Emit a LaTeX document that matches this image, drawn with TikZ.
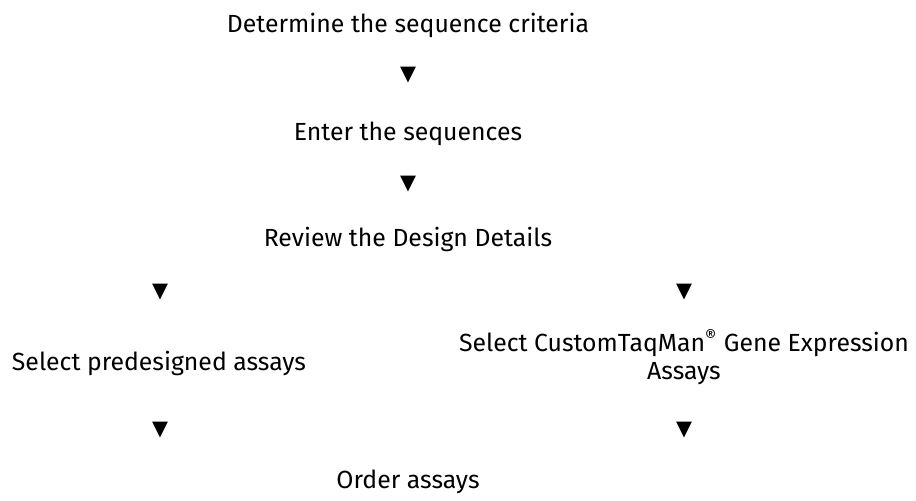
\documentclass[tikz,border=0pt]{standalone}
\usepackage{fontspec}
\setmainfont{Fira Sans}
\newfontfamily\symbfont{DejaVu Sans}
\newlength{\du}
\setlength{\du}{0.5pt}

\begin{document}
\begin{tikzpicture}
\pgftransformxscale{1.000000}
\pgftransformyscale{-1.000000}
\tikzset{
  steptext/.style={font=\fontsize{12.4}{14}\selectfont, inner sep=0pt, align=center, anchor=base},
  downmark/.style={font=\symbfont\fontsize{10.4}{12}\selectfont, inner sep=0pt}
}
\useasboundingbox (0\du,0\du) rectangle (916\du,500\du);
% steps down the middle
\node[steptext] (criteria) at (408\du,32\du){Determine the sequence criteria};
\node[downmark] (mark1) at (408\du,75\du){▼};
\node[steptext] (enter) at (408\du,140\du){Enter the sequences};
\node[downmark] (mark2) at (408\du,184\du){▼};
\node[steptext] (review) at (408\du,246\du){Review the Design Details};
% two branches
\node[downmark] (markleft) at (160\du,292\du){▼};
\node[downmark] (markright) at (684\du,292\du){▼};
\node[steptext] (predesigned) at (159\du,370\du){Select predesigned assays};
% base anchor sits on the last line here
\node[steptext] (custom) at (684\du,379\du){Select CustomTaqMan\textsuperscript{\textregistered} Gene Expression\\Assays};
\node[downmark] (markleft2) at (160\du,430\du){▼};
\node[downmark] (markright2) at (684\du,430\du){▼};
% final step
\node[steptext] (order) at (408\du,488\du){Order assays};
\end{tikzpicture}
\end{document}
